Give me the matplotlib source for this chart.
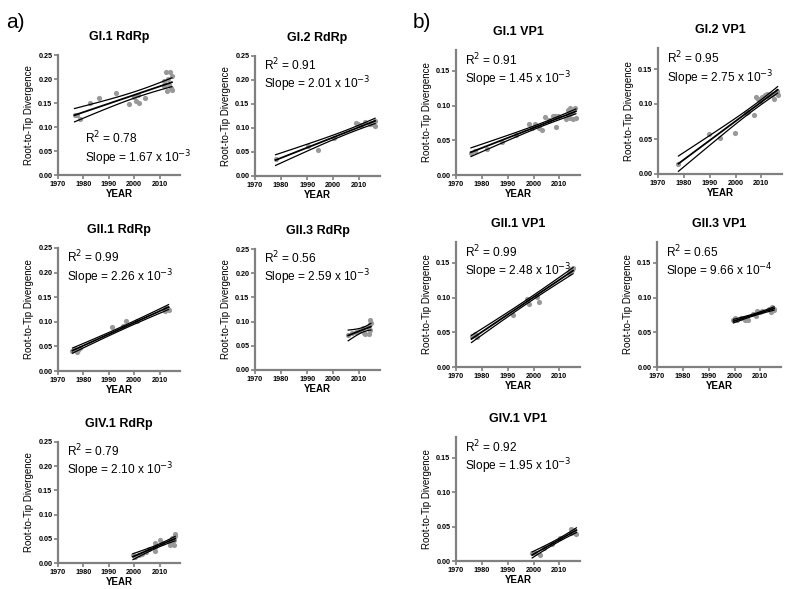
import numpy as np
import matplotlib
matplotlib.use("Agg")
import matplotlib.pyplot as plt

plt.rcParams['font.family'] = ['Liberation Sans', 'DejaVu Sans']

# ---- data (year, root-to-tip divergence) ----
gi1_rdrp_year = [1976.5, 1977.4, 1978.6, 1982.5, 1986, 1993, 1998, 2000, 2000.6, 2001.6, 2002, 2004.3,
                 2011.7, 2011.9, 2012.5, 2012.8, 2013.2, 2013.5, 2013.9, 2014.5, 2014.8, 2014.8]
gi1_rdrp_div = [0.124, 0.125, 0.116, 0.151, 0.161, 0.170, 0.148, 0.162, 0.155, 0.166, 0.150, 0.160,
                0.185, 0.195, 0.215, 0.176, 0.201, 0.187, 0.215, 0.182, 0.207, 0.178]

gi2_rdrp_year = [1977.9, 1990.2, 1994.3, 2000.2, 2008.6, 2009.7, 2010.7, 2012.4, 2014.1, 2014.7, 2015.4, 2016.1, 2016.1]
gi2_rdrp_div = [0.035, 0.063, 0.054, 0.080, 0.111, 0.108, 0.106, 0.112, 0.108, 0.111, 0.109, 0.115, 0.105]

gii1_rdrp_year = [1975.7, 1976.8, 1977.4, 1977.8, 1978.7, 1991.1, 1995.7, 1996.7, 2000.9, 2012, 2012, 2012.6, 2013.3, 2013.5]
gii1_rdrp_div = [0.041, 0.044, 0.039, 0.042, 0.046, 0.089, 0.092, 0.101, 0.101, 0.126, 0.122, 0.129, 0.127, 0.124]

gii3_rdrp_year = [2005.8, 2007.2, 2008.6, 2010, 2011.4, 2011.8, 2012.1, 2013.5, 2013.9, 2014.2, 2014.2, 2014.2, 2014.5]
gii3_rdrp_div = [0.072, 0.077, 0.079, 0.081, 0.086, 0.077, 0.074, 0.089, 0.074, 0.103, 0.095, 0.082, 0.098]

giv1_rdrp_year = [1999.5, 2000.4, 2001.8, 2003.2, 2004.5, 2005.9, 2008, 2008, 2008.2, 2010, 2011.1,
                  2014.1, 2014.1, 2014.8, 2014.8, 2015.5, 2015.6, 2016.1, 2016.1]
giv1_rdrp_div = [0.016, 0.012, 0.017, 0.019, 0.022, 0.029, 0.034, 0.024, 0.041, 0.047, 0.042,
                 0.045, 0.038, 0.041, 0.051, 0.048, 0.038, 0.055, 0.060]

gi1_vp1_year = [1975.8, 1977.2, 1981.9, 1987.7, 1993.4, 1998.3, 1999.4, 2000.7, 2001.4, 2002.3, 2003.1,
                2004.4, 2006, 2007.4, 2008.4, 2008.7, 2009.3, 2012.6, 2013.3, 2013.3, 2014, 2014.3,
                2014.6, 2015, 2015.3, 2016, 2016.4]
gi1_vp1_div = [0.032, 0.035, 0.038, 0.048, 0.057, 0.073, 0.068, 0.074, 0.070, 0.067, 0.065,
               0.083, 0.079, 0.085, 0.085, 0.069, 0.085, 0.081, 0.094, 0.086, 0.097, 0.082,
               0.089, 0.091, 0.081, 0.096, 0.082]

gi2_vp1_year = [1977.9, 1989.9, 1994, 1999.9, 2004.1, 2005, 2007.1, 2007.8, 2008.7, 2009.3, 2010.3,
                2011.3, 2012, 2012.6, 2013.3, 2013.9, 2014.6, 2015, 2015.9, 2015.9, 2016.3]
gi2_vp1_div = [0.015, 0.057, 0.051, 0.059, 0.087, 0.088, 0.085, 0.110, 0.107, 0.105, 0.110,
               0.113, 0.114, 0.111, 0.114, 0.113, 0.115, 0.107, 0.119, 0.116, 0.113]

gii1_vp1_year = [1976, 1977.2, 1977.5, 1978, 1992.1, 1997.4, 1998.1, 2001.4, 2002.3, 2013.7, 2014, 2014.6, 2015, 2015.3]
gii1_vp1_div = [0.045, 0.046, 0.048, 0.043, 0.075, 0.098, 0.091, 0.101, 0.094, 0.136, 0.139, 0.141, 0.139, 0.142]

gii3_vp1_year = [1999.6, 2000, 2000.9, 2002.7, 2004, 2004.7, 2005.3, 2007.3, 2008.3, 2008.7, 2009.7,
                 2010.7, 2013.3, 2014, 2014.7, 2015.1, 2015.3]
gii3_vp1_div = [0.067, 0.070, 0.067, 0.070, 0.067, 0.071, 0.068, 0.077, 0.074, 0.080, 0.079,
                0.080, 0.084, 0.079, 0.087, 0.084, 0.082]

giv1_vp1_year = [1999.5, 2000.6, 2002.4, 2004.1, 2007.1, 2010.3, 2014.6, 2014.6, 2015.2, 2015.5, 2015.9, 2016.6]
giv1_vp1_div = [0.012, 0.011, 0.009, 0.019, 0.025, 0.033, 0.047, 0.041, 0.045, 0.042, 0.040, 0.039]

titles = ["GI.1 RdRp", "GI.2 RdRp", "GII.1 RdRp", "GII.3 RdRp", "GIV.1 RdRp",
          "GI.1 VP1", "GI.2 VP1", "GII.1 VP1", "GII.3 VP1", "GIV.1 VP1"]
r2_labels = ["0.78", "0.91", "0.99", "0.56", "0.79", "0.91", "0.95", "0.99", "0.65", "0.92"]
slope_labels = [r"1.67 x 10$^{-3}$", r"2.01 x 10$^{-3}$", r"2.26 x 10$^{-3}$", r"2.59 x 10$^{-3}$",
                r"2.10 x 10$^{-3}$", r"1.45 x 10$^{-3}$", r"2.75 x 10$^{-3}$", r"2.48 x 10$^{-3}$",
                r"9.66 x 10$^{-4}$", r"1.95 x 10$^{-3}$"]
years = [gi1_rdrp_year, gi2_rdrp_year, gii1_rdrp_year, gii3_rdrp_year, giv1_rdrp_year,
         gi1_vp1_year, gi2_vp1_year, gii1_vp1_year, gii3_vp1_year, giv1_vp1_year]
divs = [gi1_rdrp_div, gi2_rdrp_div, gii1_rdrp_div, gii3_rdrp_div, giv1_rdrp_div,
        gi1_vp1_div, gi2_vp1_div, gii1_vp1_div, gii3_vp1_div, giv1_vp1_div]

W, H = 787, 589
# axes boxes in pixels: left, top, right, bottom
boxes = [(58, 55, 180, 175), (255, 56, 380, 176), (58, 248, 180, 371), (255, 249, 380, 370),
         (58, 442, 180, 563),
         (456, 50, 580, 175), (658, 48, 782, 174), (456, 242, 580, 367), (657, 242, 781, 367),
         (456, 437, 580, 561)]

fig = plt.figure(figsize=(W / 100, H / 100), dpi=100)
grey = "#808080"

for i in range(10):
    l, t, r, b = boxes[i]
    ax = fig.add_axes([l / W, 1 - b / H, (r - l) / W, (b - t) / H])
    x = np.array(years[i])
    y = np.array(divs[i])

    ax.scatter(x, y, s=14, color="#999999", zorder=2, linewidths=0)

    # linear fit with 95% confidence band
    slope, icpt = np.polyfit(x, y, 1)
    xs = np.linspace(x.min(), x.max(), 100)
    fit = slope * xs + icpt
    n = len(x)
    resid = y - (slope * x + icpt)
    s = np.sqrt(np.sum(resid ** 2) / (n - 2))
    se = s * np.sqrt(1 / n + (xs - x.mean()) ** 2 / np.sum((x - x.mean()) ** 2))
    ax.plot(xs, fit, color="black", lw=1.3, zorder=3)
    ax.plot(xs, fit + 2.1 * se, color="black", lw=0.9, zorder=3)
    ax.plot(xs, fit - 2.1 * se, color="black", lw=0.9, zorder=3)

    ax.set_xlim(1970, 2018)
    ax.set_xticks([1970, 1980, 1990, 2000, 2010])
    if i < 5:
        ax.set_ylim(0, 0.25)
        ax.set_yticks([0, 0.05, 0.10, 0.15, 0.20, 0.25])
    else:
        ax.set_ylim(0, 0.18)
        ax.set_yticks([0, 0.05, 0.10, 0.15])
    ax.yaxis.set_major_formatter(matplotlib.ticker.FormatStrFormatter("%.2f"))

    for side in ["top", "right"]:
        ax.spines[side].set_visible(False)
    for side in ["left", "bottom"]:
        ax.spines[side].set_color(grey)
        ax.spines[side].set_linewidth(1.6)
    ax.tick_params(colors=grey, labelcolor="black", length=3, width=1.2, labelsize=5.2, pad=1)
    for lab in ax.get_xticklabels() + ax.get_yticklabels():
        lab.set_fontweight("bold")

    ax.set_title(titles[i], fontsize=9, fontweight="bold", pad=11)
    ax.set_xlabel("YEAR", fontsize=7, fontweight="bold", labelpad=1)
    ax.set_ylabel("Root-to-Tip Divergence", fontsize=7, labelpad=3)

    if i == 0:
        ax.text(0.22, 0.26, "R$^2$ = " + r2_labels[i], transform=ax.transAxes, fontsize=8.6)
        ax.text(0.22, 0.11, "Slope = " + slope_labels[i], transform=ax.transAxes, fontsize=8.6)
    else:
        ax.text(0.07, 0.88, "R$^2$ = " + r2_labels[i], transform=ax.transAxes, fontsize=8.6)
        ax.text(0.07, 0.73, "Slope = " + slope_labels[i], transform=ax.transAxes, fontsize=8.6)

fig.text(6 / W, 1 - 28 / H, "a)", fontsize=15)
fig.text(413 / W, 1 - 28 / H, "b)", fontsize=15)

fig.savefig("out.png", dpi=100)
